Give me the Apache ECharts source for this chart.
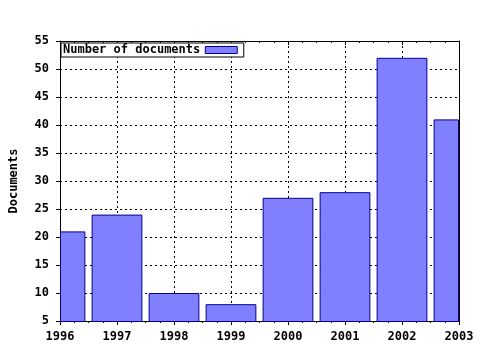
<!DOCTYPE html>
<html><head><meta charset="utf-8">
<script src="https://cdn.jsdelivr.net/npm/echarts@6/dist/echarts.min.js"></script>
<style>html,body{margin:0;padding:0;background:#fff}#c{width:480px;height:350px}</style>
</head><body><div id="c"></div>
<script>
var years = [1996, 1997, 1998, 1999, 2000, 2001, 2002, 2003];
var documents = [21, 24, 10, 8, 27, 28, 52, 41];
var seriesName = 'Number of documents';
var yName = 'Documents';

var font = 'DejaVu Sans Mono';
var barFill = '#8080ff', barEdge = '#000090';
var chart = echarts.init(document.getElementById('c'));
var data = years.map(function (y, i) { return [y, documents[i]]; });
var yMin = 5;
function renderBar(params, api) {
  var x = api.value(0), v = api.value(1);
  var w = api.size([1, 0])[0] * 0.89;
  var top = api.coord([x, v]);
  var base = api.coord([x, yMin]);
  var rect = echarts.graphic.clipRectByRect({
    x: top[0] - w / 2, y: top[1], width: w, height: base[1] - top[1]
  }, {
    x: params.coordSys.x, y: params.coordSys.y,
    width: params.coordSys.width, height: params.coordSys.height
  });
  if (!rect) return;
  return {
    type: 'rect', shape: { x: rect.x + 0.5, y: rect.y + 0.5, width: rect.width - 1, height: rect.height },
    style: { fill: barFill, stroke: barEdge, lineWidth: 1 }
  };
}
chart.setOption({
  animation: false,
  backgroundColor: '#fff',
  grid: { left: 57, right: 21, top: 41, bottom: 29 },
  legend: {
    left: 61, top: 43, align: 'right',
    backgroundColor: '#fff', borderColor: '#000', borderWidth: 1,
    padding: [1, 6, 1, 2], itemWidth: 32, itemHeight: 7, itemGap: 0,
    textStyle: { fontFamily: font, fontWeight: 'bold', fontSize: 12, color: '#000' },
    itemStyle: { color: barFill, borderColor: barEdge, borderWidth: 1 },
    data: [{ name: seriesName, icon: 'rect' }]
  },
  xAxis: [{
    type: 'value', min: 1996, max: 2003, interval: 1,
    axisLine: { lineStyle: { color: '#000', width: 1 } },
    axisTick: { length: 4, lineStyle: { color: '#000' } },
    minorTick: { show: true, splitNumber: 4, length: 2, lineStyle: { color: '#000' } },
    axisLabel: { fontFamily: font, fontWeight: 'bold', fontSize: 12, color: '#000', margin: 10,
      formatter: function (v) { return String(v); } },
    splitLine: { show: true, lineStyle: { color: '#000', type: [2, 3], width: 1 } }
  }, {
    type: 'value', position: 'top', min: 1996, max: 2003, interval: 1,
    axisLine: { show: true, lineStyle: { color: '#000' } },
    axisTick: { inside: true, length: 4, lineStyle: { color: '#000' } },
    minorTick: { show: true, splitNumber: 4, length: 2, lineStyle: { color: '#000' } },
    axisLabel: { show: false }, splitLine: { show: false }
  }],
  yAxis: [{
    type: 'value', min: yMin, max: 55, interval: 5,
    name: yName, nameLocation: 'middle', nameGap: 40,
    nameTextStyle: { fontFamily: font, fontWeight: 'bold', fontSize: 12, color: '#000' },
    axisLine: { show: true, lineStyle: { color: '#000' } },
    axisTick: { show: true, length: 4, lineStyle: { color: '#000' } },
    axisLabel: { fontFamily: font, fontWeight: 'bold', fontSize: 12, color: '#000', margin: 11 },
    splitLine: { show: true, lineStyle: { color: '#000', type: [2, 3], width: 1 } }
  }, {
    type: 'value', position: 'right', min: yMin, max: 55, interval: 5,
    axisLine: { show: true, lineStyle: { color: '#000' } },
    axisTick: { show: false }, axisLabel: { show: false }, splitLine: { show: false }
  }],
  series: [{
    name: seriesName, type: 'custom', renderItem: renderBar, data: data,
    encode: { x: 0, y: 1 }, itemStyle: { color: barFill }
  }]
});
</script></body></html>
